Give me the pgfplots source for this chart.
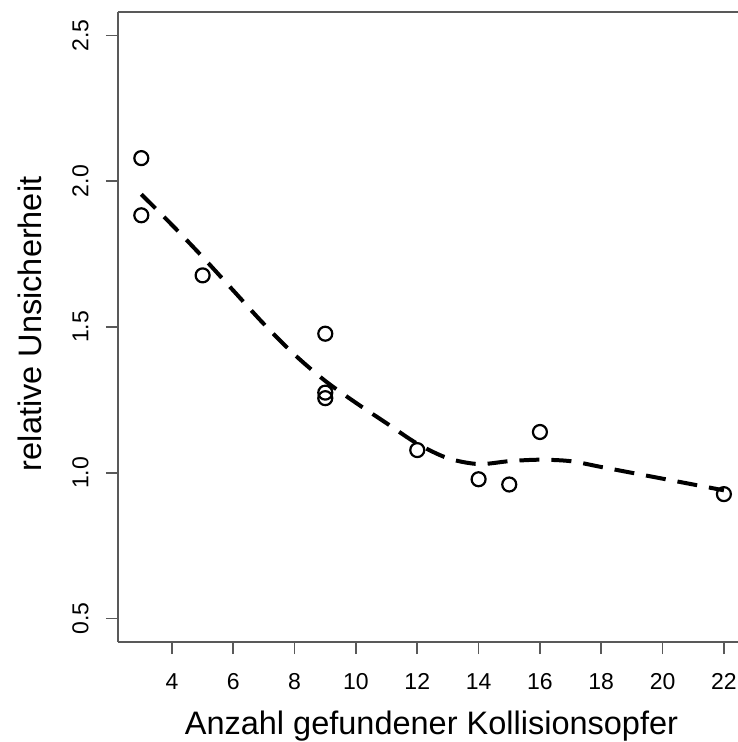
\documentclass[border=0pt]{standalone}
\usepackage{fontspec}
\setmainfont{Liberation Sans}
\usepackage{pgfplots}
\pgfplotsset{compat=1.18}
\usetikzlibrary{calc}

\definecolor{axisgray}{gray}{0.35}

\begin{document}
\begin{tikzpicture}
\begin{axis}[
    name=ax,
    scale only axis,
    width=620bp, height=630bp,
    xmin=2.24, xmax=22.46,
    ymin=0.42, ymax=2.58,
    axis x line=box, axis y line=left,
    axis line style={-, axisgray, line width=1.6bp},
    xtick={4,6,...,22},
    ytick={0.5,1,1.5,2,2.5},
    xtick pos=bottom, ytick pos=left,
    tick align=outside,
    major tick length=12bp,
    tick style={axisgray, line width=1.6bp},
    /pgf/number format/assume math mode=true,
    yticklabel={\pgfmathprintnumber[fixed,fixed zerofill,precision=1]{\tick}},
    ticklabel style={font=\fontsize{23bp}{26bp}\selectfont},
    yticklabel style={rotate=90, anchor=south, yshift=14bp},
    xticklabel style={yshift=-16bp},
    xlabel={Anzahl gefundener Kollisionsopfer},
    ylabel={relative Unsicherheit},
    label style={font=\fontsize{32.5bp}{36bp}\selectfont},
    xlabel style={at={(axis description cs:0.5056,-0.133)}, anchor=center},
    ylabel style={at={(axis description cs:-0.142,0.505)}, anchor=center},
    clip=false,
]
\addplot[only marks, mark=o, mark size=7bp, mark options={line width=2.2bp, black}] coordinates {
    (3,2.079) (3,1.883) (5,1.677) (9,1.477) (9,1.275) (9,1.256)
    (12,1.078) (14,0.978) (15,0.960) (16,1.140) (22,0.927)
};
\addplot[black, line width=4bp, dash pattern=on 20bp off 12bp, smooth] coordinates {
    (3,1.955) (4,1.85) (5,1.74) (6,1.625) (7,1.51) (8,1.405) (9,1.315)
    (10,1.24) (11,1.17) (12,1.10) (13,1.05) (14,1.03) (15,1.04) (16,1.045)
    (17,1.04) (18,1.02) (19,1.00) (20,0.98) (21,0.96) (22,0.94)
};
\end{axis}
\pgfresetboundingbox
\path[use as bounding box] ($(ax.south west)+(-118bp,-100bp)$) rectangle ($(ax.north east)+(0bp,12bp)$);
\end{tikzpicture}
\end{document}
